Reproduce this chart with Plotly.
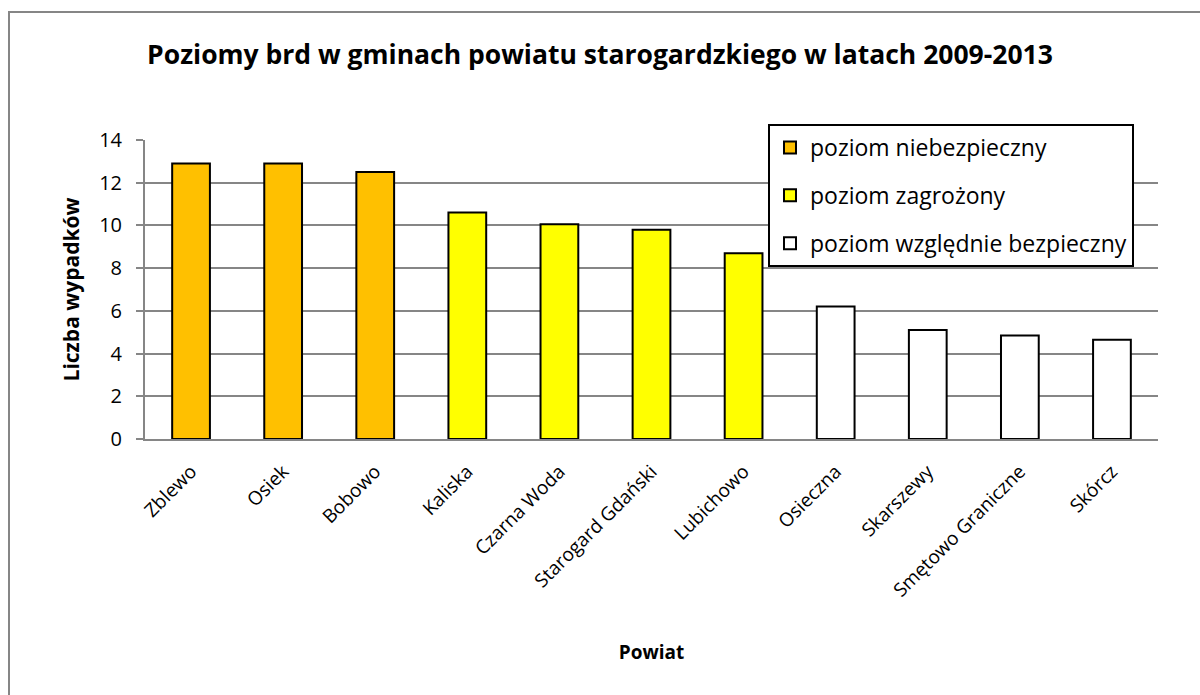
import plotly.graph_objects as go

categories = ["Zblewo", "Osiek", "Bobowo", "Kaliska", "Czarna Woda", "Starogard Gdański",
              "Lubichowo", "Osieczna", "Skarszewy", "Smętowo Graniczne", "Skórcz"]
values = [12.9, 12.9, 12.5, 10.6, 10.05, 9.8, 8.7, 6.2, 5.1, 4.85, 4.65]
levels = [0, 0, 0, 1, 1, 1, 1, 2, 2, 2, 2]
level_names = ["poziom niebezpieczny", "poziom zagrożony", "poziom względnie bezpieczny"]
level_colors = ["#FFC000", "#FFFF00", "#FFFFFF"]
y_ticks = [0, 2, 4, 6, 8, 10, 12, 14]

FONT = "Open Sans"
W, H = 1200, 695
L, R, T, B = 145, 42, 140, 256

fig = go.Figure()
for i, name in enumerate(level_names):
    xs = [c for c, l in zip(categories, levels) if l == i]
    ys = [v for v, l in zip(values, levels) if l == i]
    fig.add_trace(go.Bar(
        x=xs, y=ys, name=name, legendgroup=name,
        marker=dict(color=level_colors[i], line=dict(color="#000000", width=2)),
        width=0.41,
    ))

pw = W - L - R
ph = H - T - B
def px(x):
    return (x - L) / pw
def py(y):
    return (H - B - y) / ph

fig.update_layout(
    width=W, height=H,
    margin=dict(l=L, r=R, t=T, b=B),
    paper_bgcolor="white", plot_bgcolor="white",
    barmode="overlay",
    font=dict(family=FONT, color="#000000"),
    title=dict(text="<b>Poziomy brd w gminach powiatu starogardzkiego w latach 2009-2013</b>",
               x=0.5, xanchor="center", y=1 - 55 / H, yanchor="middle",
               font=dict(size=26.5, family=FONT)),
    xaxis=dict(categoryorder="array", categoryarray=categories,
               tickangle=-45, tickfont=dict(size=19),
               showline=True, linecolor="#868686", linewidth=2,
               ticks="", showgrid=False, ticklabelstandoff=12,
               title=dict(text="<b>Powiat</b>", font=dict(size=19), standoff=44)),
    yaxis=dict(range=[0, 14], tickvals=y_ticks, tickfont=dict(size=20),
               showgrid=True, gridcolor="#868686", gridwidth=2,
               showline=True, linecolor="#868686", linewidth=2,
               ticks="outside", ticklen=7, tickcolor="#868686", tickwidth=2,
               ticklabelstandoff=10,
               zeroline=False,
               title=dict(text="<b>Liczba wypadków</b>", font=dict(size=21), standoff=14)),
    legend=dict(x=px(768), y=py(124), xanchor="left", yanchor="top",
                bgcolor="white", bordercolor="#000000", borderwidth=2,
                font=dict(size=23), tracegroupgap=15, traceorder="grouped",
                itemwidth=30),
    showlegend=True,
)

fig.add_shape(type="rect", xref="paper", yref="paper",
              x0=px(9), x1=px(1210), y0=py(710), y1=py(12),
              line=dict(color="#868686", width=2), fillcolor="rgba(0,0,0,0)", layer="below")

fig.write_html("out.html", config={"displayModeBar": False},
               post_script="document.body.style.margin='0';")
